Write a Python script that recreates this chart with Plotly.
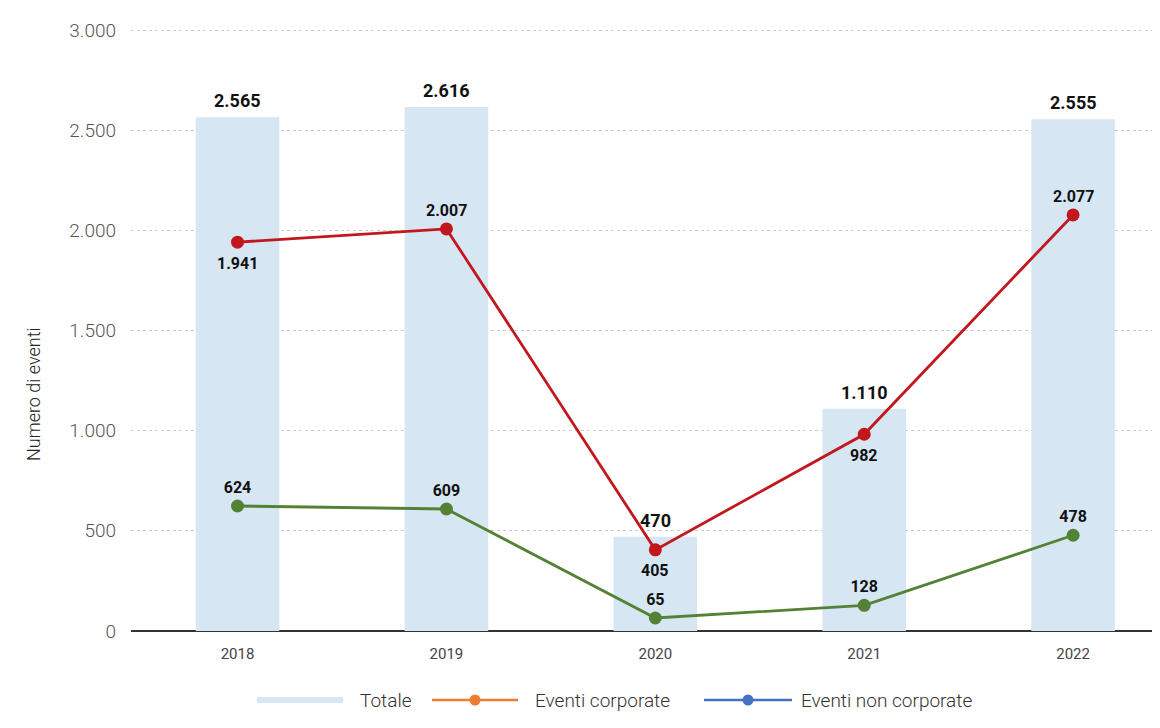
import plotly.graph_objects as go

anni = ["2018", "2019", "2020", "2021", "2022"]
totale = [2565, 2616, 470, 1110, 2555]
eventi_corporate = [1941, 2007, 405, 982, 2077]
eventi_non_corporate = [624, 609, 65, 128, 478]

# etichette della linea rossa: sopra (+1) o sotto (-1) il punto
lato_corporate = [-1, 1, -1, -1, 1]

FONT = "Roboto, 'Open Sans', sans-serif"
BLU_CHIARO = "#d6e6f3"
ROSSO = "#c2171d"
VERDE = "#548235"

# la pagina ha 8px di margine nel body
W, H = 1160, 728
L, R, T, B = 123, 8, 20, 105
OFF = 8


def px_x(px):
    return (px - OFF - L) / (W - L - R)


def px_y(py):
    return (H - B - (py - OFF)) / (H - T - B)


def fmt(valore):
    return "<b>" + f"{valore:,}".replace(",", ".") + "</b>"


fig = go.Figure()

# ==========================================================
# BARRE (Totale)
# ==========================================================

fig.add_trace(
    go.Bar(
        x=anni,
        y=totale,
        width=0.4,
        marker=dict(color=BLU_CHIARO, line=dict(width=0)),
        showlegend=False,
        hoverinfo="skip",
    )
)

# ==========================================================
# LINEE
# ==========================================================

fig.add_trace(
    go.Scatter(
        x=anni,
        y=eventi_corporate,
        mode="lines+markers",
        line=dict(color=ROSSO, width=2.8),
        marker=dict(color=ROSSO, size=13),
        showlegend=False,
        hoverinfo="skip",
    )
)

fig.add_trace(
    go.Scatter(
        x=anni,
        y=eventi_non_corporate,
        mode="lines+markers+text",
        line=dict(color=VERDE, width=2.8),
        marker=dict(color=VERDE, size=13),
        texttemplate="<b>%{y:,d}</b>",
        textposition="top center",
        textfont=dict(family=FONT, size=16, color="#111"),
        cliponaxis=False,
        showlegend=False,
        hoverinfo="skip",
    )
)

# etichette dei totali sopra le barre (x come indice di categoria)
annotazioni = [
    dict(
        x=i,
        y=valore,
        text=fmt(valore),
        showarrow=False,
        yanchor="bottom",
        yshift=4,
        font=dict(family=FONT, size=18, color="#111"),
    )
    for i, valore in enumerate(totale)
]

# etichette della linea rossa
annotazioni += [
    dict(
        x=i,
        y=valore,
        text=fmt(valore),
        showarrow=False,
        yanchor="middle",
        yshift=18 if lato > 0 else -21,
        font=dict(family=FONT, size=16, color="#111"),
    )
    for i, (valore, lato) in enumerate(zip(eventi_corporate, lato_corporate))
]

annotazioni.append(
    dict(
        text="Numero di eventi",
        textangle=-90,
        xref="paper",
        yref="paper",
        x=px_x(33),
        y=px_y(394),
        xanchor="center",
        yanchor="middle",
        showarrow=False,
        font=dict(family=FONT, size=18, color="#222", weight=300),
    )
)

# ==========================================================
# LEGENDA manuale (colori come nell'originale)
# ==========================================================

legenda = [
    # nome, colore, inizio simbolo, fine simbolo, inizio testo, marker
    ("Totale", BLU_CHIARO, 257, 343, 358, False),
    ("Eventi corporate", "#ed7d31", 432, 518, 533, True),
    ("Eventi non corporate", "#4472c4", 704, 792, 799, True),
]

y_leg = px_y(700)
alt = H - T - B
shapes = []

for nome, colore, x0, x1, xt, con_marker in legenda:
    shapes.append(
        dict(
            type="line",
            xref="paper",
            yref="paper",
            x0=px_x(x0),
            x1=px_x(x1),
            y0=y_leg,
            y1=y_leg,
            line=dict(color=colore, width=2.5 if con_marker else 6),
        )
    )
    if con_marker:
        xc = (x0 + x1) / 2
        shapes.append(
            dict(
                type="circle",
                xref="paper",
                yref="paper",
                x0=px_x(xc - 5.5),
                x1=px_x(xc + 5.5),
                y0=y_leg - 5.5 / alt,
                y1=y_leg + 5.5 / alt,
                fillcolor=colore,
                line=dict(color=colore, width=0),
            )
        )
    annotazioni.append(
        dict(
            text=nome,
            xref="paper",
            yref="paper",
            x=px_x(xt),
            y=y_leg,
            xanchor="left",
            yanchor="middle",
            showarrow=False,
            font=dict(family=FONT, size=19, color="#333", weight=300),
        )
    )

fig.update_layout(
    width=W,
    height=H,
    separators=",.",
    plot_bgcolor="white",
    paper_bgcolor="white",
    font=dict(family=FONT, color="#444"),
    margin=dict(l=L, r=R, t=T, b=B, autoexpand=False),
    showlegend=False,
    annotations=annotazioni,
    shapes=shapes,
)

fig.update_xaxes(
    range=[-0.51, 4.416],
    showgrid=False,
    showline=False,
    ticks="",
    automargin=False,
    ticklabelstandoff=12,
    tickfont=dict(family=FONT, size=15, color="#444"),
    fixedrange=True,
)

fig.update_yaxes(
    range=[0, 3010],
    tickvals=[0, 500, 1000, 1500, 2000, 2500, 3000],
    tickformat=",d",
    showgrid=True,
    gridcolor="#cccccc",
    griddash="dot",
    gridwidth=1,
    zeroline=True,
    zerolinecolor="#333333",
    zerolinewidth=1.5,
    automargin=False,
    ticklabelstandoff=14,
    tickfont=dict(family=FONT, size=19, color="#555", weight=300),
    fixedrange=True,
)

fig.write_html("out.html")
